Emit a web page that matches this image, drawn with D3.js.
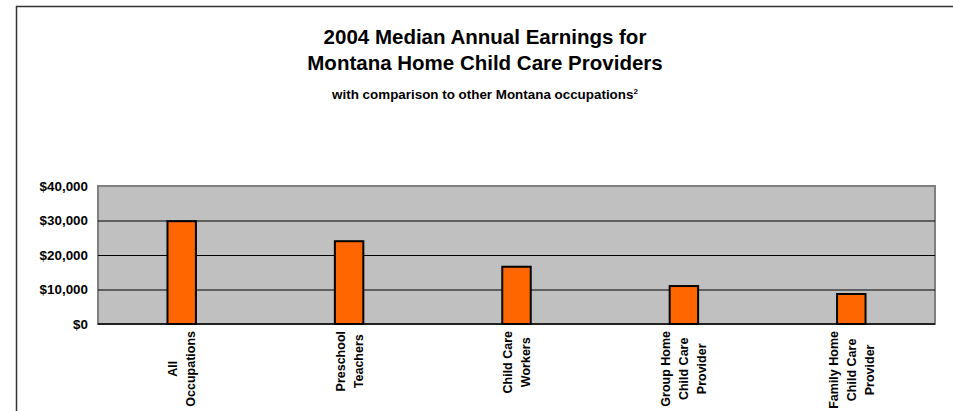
<!DOCTYPE html>
<html>
<head>
<meta charset="utf-8">
<script src="https://cdn.jsdelivr.net/npm/d3@7"></script>
<style>
  body { margin: 0; background: #fff; }
  text { font-family: "Liberation Sans", Arial, sans-serif; font-weight: bold; fill: #000; }
</style>
</head>
<body>
<svg width="953" height="411"></svg>
<script>
// values
var categories = [
  ["All", "Occupations"],
  ["Preschool", "Teachers"],
  ["Child Care", "Workers"],
  ["Group Home", "Child Care", "Provider"],
  ["Family Home", "Child Care", "Provider"]
];
var earnings = [29800, 24000, 16600, 11000, 8700];
var yTicks = [0, 10000, 20000, 30000, 40000];
var titleLines = ["2004 Median Annual Earnings for", "Montana Home Child Care Providers"];
var subtitle = "with comparison to other Montana occupations";

var svg = d3.select("svg"),
    margin = {top: 186, right: 18, bottom: 87, left: 98},
    width = +svg.attr("width") - margin.left - margin.right,
    height = +svg.attr("height") - margin.top - margin.bottom;

var data = categories.map(function(c, i) { return {name: c, value: earnings[i], key: i}; });

// outer frame, runs off the right and bottom edge
svg.append("rect")
    .attr("x", 16.5).attr("y", 6.5)
    .attr("width", 1000).attr("height", 500)
    .attr("fill", "none").attr("stroke", "#333").attr("stroke-width", 1.5);

svg.selectAll(".title")
  .data(titleLines)
  .enter().append("text")
    .attr("class", "title")
    .attr("x", 485)
    .attr("y", function(d, i) { return 44 + i * 26; })
    .attr("text-anchor", "middle")
    .style("font-size", "20.5px")
    .text(function(d) { return d; });

var sub = svg.append("text")
    .attr("x", 485).attr("y", 99)
    .attr("text-anchor", "middle")
    .style("font-size", "13.4px");
sub.append("tspan").text(subtitle);
sub.append("tspan").attr("dy", -5).style("font-size", "8px").text("2");

var x = d3.scaleBand().domain(data.map(function(d) { return d.key; })).range([0, width]).paddingInner(0.83).paddingOuter(0.415),
    y = d3.scaleLinear().domain([0, 40000]).range([height, 0]);

var g = svg.append("g")
    .attr("transform", "translate(" + margin.left + "," + margin.top + ")");

g.append("rect")
    .attr("width", width).attr("height", height)
    .attr("fill", "#c0c0c0").attr("stroke", "#808080").attr("stroke-width", 2);

g.append("g")
    .attr("class", "grid")
    .call(d3.axisLeft(y).tickValues(yTicks.slice(1, 4)).tickSize(-width).tickFormat(""))
    .call(function(a) { a.select(".domain").remove(); })
    .selectAll("line").attr("stroke", "#000").attr("stroke-width", 1);

g.append("g")
    .attr("class", "axis axis--y")
    .call(d3.axisLeft(y).tickValues(yTicks).tickSize(0).tickPadding(10).tickFormat(d3.format("$,")))
    .call(function(a) { a.select(".domain").remove(); })
    .selectAll("text").style("font-size", "13.4px").style("font-family", "Liberation Sans, Arial, sans-serif");

g.append("line")
    .attr("x1", 0).attr("x2", width)
    .attr("y1", height).attr("y2", height)
    .attr("stroke", "#222").attr("stroke-width", 2);

g.selectAll(".bar")
  .data(data)
  .enter().append("rect")
    .attr("class", "bar")
    .attr("x", function(d) { return x(d.key); })
    .attr("y", function(d) { return y(d.value); })
    .attr("width", x.bandwidth())
    .attr("height", function(d) { return height - y(d.value); })
    .attr("fill", "#ff6600")
    .attr("stroke", "#000")
    .attr("stroke-width", 2);

// rotated, multi-line category labels
var lab = g.selectAll(".label")
  .data(data)
  .enter().append("text")
    .attr("class", "label")
    .style("font-size", "12.5px")
    .attr("text-anchor", "middle");

lab.each(function(d) {
  var t = d3.select(this),
      cx = x(d.key) + x.bandwidth() / 2,
      n = d.name.length;
  var maxW = 0;
  var spans = d.name.map(function(line, i) {
    var s = t.append("tspan").text(line);
    maxW = Math.max(maxW, s.node().getComputedTextLength());
    return s;
  });
  var cy = height + 7 + maxW / 2;
  t.attr("transform", "translate(" + cx + "," + cy + ") rotate(-90)");
  spans.forEach(function(s, i) {
    s.attr("x", 0).attr("y", (i - (n - 1) / 2) * 18 + 4.5);
  });
});
</script>
</body>
</html>
